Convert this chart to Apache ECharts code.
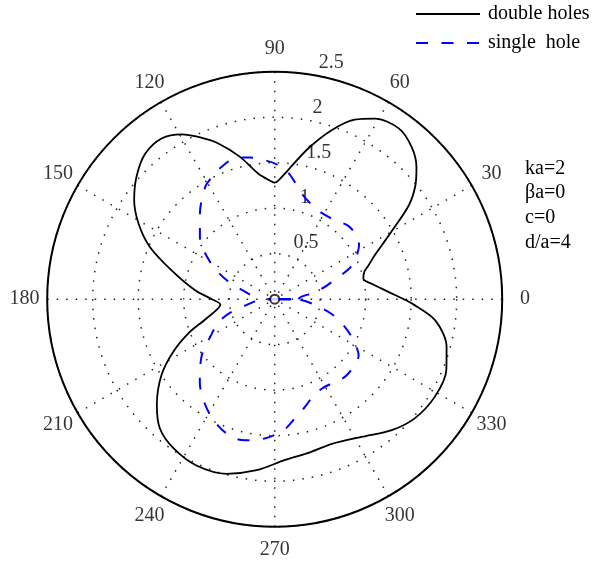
<!DOCTYPE html>
<html><head><meta charset="utf-8">
<script src="https://cdn.jsdelivr.net/npm/echarts@6/dist/echarts.min.js"></script>
<style>html,body{margin:0;padding:0;background:#fff}#c{width:594px;height:563px}</style>
</head><body><div id="c"></div>
<script>
const angleTicks = [0, 30, 60, 90, 120, 150, 180, 210, 240, 270, 300, 330];
const angleLabels = ['0', '30', '60', '90', '120', '150', '180', '210', '240', '270', '300', '330'];
const radiusTicks = [0.5, 1, 1.5, 2, 2.5];
const radiusLabels = ['0.5', '1', '1.5', '2', '2.5'];

const doubleTheta = [0, 3, 6, 9, 13, 17, 20, 23.7, 27, 30, 35, 39, 43, 48, 54, 61, 66, 71.4, 77.4, 84, 88, 90, 92, 97.4, 103.7, 109.9, 115.2, 119.4, 125, 131.7, 138.4, 144.8, 151, 157.2, 164.3, 173.6, 180, 185.7, 195.8, 201.1, 207.5, 213.9, 221.9, 228.4, 235.8, 244.8, 254.6, 264, 273.7, 282, 291.6, 302.3, 311.8, 319.6, 328.6, 337.6, 344.5, 352.5, 358.2, 360];
const doubleR = [1.42, 1.28, 1.17, 1.08, 1.00, 1.03, 1.10, 1.20, 1.33, 1.48, 1.80, 1.99, 2.13, 2.25, 2.32, 2.27, 2.16, 1.96, 1.70, 1.43, 1.31, 1.28, 1.30, 1.39, 1.61, 1.82, 1.97, 2.08, 2.16, 2.14, 2.03, 1.89, 1.71, 1.49, 1.18, 0.88, 0.69, 0.60, 0.78, 1.00, 1.26, 1.50, 1.74, 1.90, 1.98, 2.02, 1.99, 1.89, 1.77, 1.73, 1.71, 1.79, 1.93, 2.02, 2.06, 2.04, 1.96, 1.78, 1.51, 1.42];

const singleTheta = [0, 5, 10, 15, 22.5, 27, 32.6, 39, 45.4, 53, 62, 68, 74.5, 80, 84, 89, 94, 100, 105, 112.7, 117, 121.8, 131.1, 140.2, 150, 158.4, 167.8, 173.6, 180, 186, 191.7, 197.4, 203, 209.8, 217.5, 228, 237.9, 246.5, 252, 256.8, 261, 266.4, 271, 275.7, 280, 285.7, 292, 298.2, 305, 312.1, 319, 326.2, 333.4, 338, 345.3, 353.4, 360];
const singleR = [0.26, 0.29, 0.45, 0.60, 0.89, 1.00, 1.10, 1.14, 1.14, 1.09, 1.08, 1.11, 1.18, 1.30, 1.40, 1.48, 1.53, 1.58, 1.61, 1.56, 1.51, 1.45, 1.25, 1.07, 0.82, 0.57, 0.30, 0.23, 0.18, 0.22, 0.32, 0.53, 0.68, 0.81, 1.01, 1.23, 1.41, 1.53, 1.58, 1.59, 1.57, 1.53, 1.48, 1.41, 1.32, 1.23, 1.14, 1.11, 1.12, 1.15, 1.14, 1.11, 0.95, 0.84, 0.65, 0.41, 0.26];

const centerTheta = [0, 180];
const centerR = [0.18, 0.08];
const originTheta = [0];
const originR = [0];

const seriesNames = ['double holes', 'single  hole'];
const noteLines = ['ka=2', 'βa=0', 'c=0', 'd/a=4'];

const FONT = "'Liberation Serif', 'DejaVu Serif', serif";
const rMax = radiusTicks[radiusTicks.length - 1];
const angleLabelR = rMax * 1.1;
const radiusLabelAngle = 82;

const zip = (rs, ts) => rs.map((r, i) => [r, ts[i]]);

const chart = echarts.init(document.getElementById('c'), null, { renderer: 'canvas' });
const dotted = { color: '#222', width: 1.5, type: [1.5, 8] };

chart.setOption({
  animation: false,
  backgroundColor: '#fff',
  title: {
    text: noteLines.join('\n'),
    left: 525, top: 156, padding: 0,
    textStyle: { fontFamily: FONT, fontSize: 20, fontWeight: 'normal', color: '#000', lineHeight: 24.8 }
  },
  legend: {
    data: seriesNames,
    orient: 'vertical',
    left: 415, top: 4, padding: 0,
    itemWidth: 64, itemHeight: 20, itemGap: 9,
    selectedMode: false,
    itemStyle: { opacity: 0 },
    textStyle: { fontFamily: FONT, fontSize: 20, color: '#000', padding: [0, 0, 0, 3] }
  },
  polar: { center: [274.7, 299.2], radius: 227.5 },
  angleAxis: {
    type: 'value', min: 0, max: 360, interval: 30, startAngle: 0, clockwise: false,
    axisLine: { show: true, lineStyle: { color: '#000', width: 2 } },
    axisTick: { show: false },
    axisLabel: { show: false },
    splitLine: { show: true, lineStyle: dotted }
  },
  radiusAxis: {
    type: 'value', min: 0, max: rMax, interval: 0.5,
    axisLine: { show: false }, axisTick: { show: false }, axisLabel: { show: false },
    splitLine: { show: true, lineStyle: dotted }
  },
  series: [
    {
      name: seriesNames[0], type: 'line', coordinateSystem: 'polar',
      data: zip(doubleR, doubleTheta), symbol: 'none', smooth: 0.3,
      lineStyle: { color: '#000', width: 1.8 }, itemStyle: { color: '#000' }, z: 3
    },
    {
      name: seriesNames[1], type: 'line', coordinateSystem: 'polar',
      data: zip(singleR, singleTheta), symbol: 'none', smooth: 0.3,
      lineStyle: { color: '#0000ff', width: 2, type: [12, 13.5] }, itemStyle: { color: '#0000ff' }, z: 4
    },
    {
      name: 'center', type: 'line', coordinateSystem: 'polar',
      data: zip(centerR, centerTheta), symbol: 'none',
      lineStyle: { color: '#0000ff', width: 2.5 }, z: 4
    },
    {
      name: 'origin', type: 'scatter', coordinateSystem: 'polar', silent: true,
      data: zip(originR, originTheta), symbol: 'emptyCircle', symbolSize: 9,
      itemStyle: { color: '#000', borderWidth: 0.8 }, z: 5
    },
    {
      name: 'angleLabels', type: 'scatter', coordinateSystem: 'polar', silent: true, clip: false,
      symbol: 'circle', symbolSize: 1, itemStyle: { color: 'rgba(0,0,0,0)' },
      data: angleTicks.map((a, i) => ({ value: [angleLabelR, a], label: { formatter: angleLabels[i] } })),
      label: { show: true, position: 'inside', fontFamily: FONT, fontSize: 20, color: '#000' }
    },
    {
      name: 'radiusLabels', type: 'scatter', coordinateSystem: 'polar', silent: true, clip: false,
      symbol: 'circle', symbolSize: 1, itemStyle: { color: 'rgba(0,0,0,0)' },
      data: radiusTicks.map((r, i) => ({ value: [r, radiusLabelAngle], label: { formatter: radiusLabels[i] } })),
      label: { show: true, position: 'right', distance: 0, offset: [12, -11.5], align: 'left', verticalAlign: 'middle', fontFamily: FONT, fontSize: 20, color: '#000' }
    }
  ]
});
</script>
</body></html>
